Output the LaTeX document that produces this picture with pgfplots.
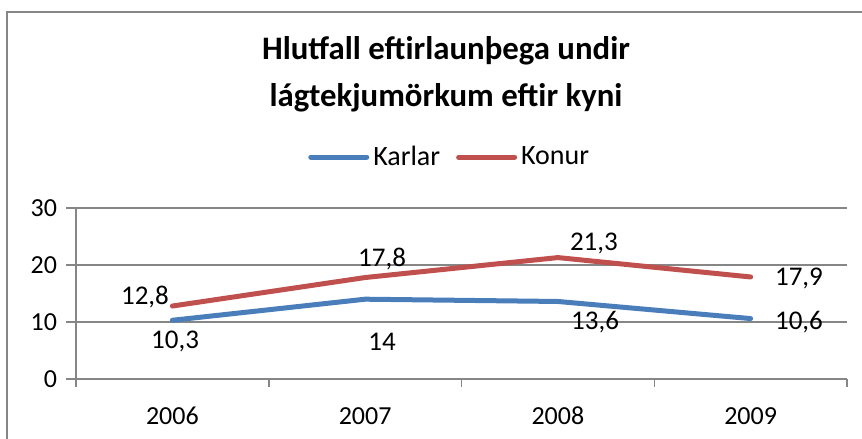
\documentclass[border=0pt]{standalone}
\usepackage{pgfplots}
\pgfplotsset{compat=1.18}
\usepackage{fontspec}
\setmainfont{Carlito}
\definecolor{cblue}{RGB}{74,126,187}
\definecolor{cred}{RGB}{192,80,77}
\definecolor{cgray}{RGB}{134,134,134}
\begin{document}
\begin{tikzpicture}
\useasboundingbox (0,0) rectangle (431pt,219.5pt);
\draw[cgray, line width=0.75pt] (3.5pt,-2pt) -- (3.5pt,213.5pt) -- (433pt,213.5pt);
\node[align=center, font=\fontsize{16.4}{23.5}\selectfont\bfseries] at (223pt,182.5pt)
  {Hlutfall eftirlaunþega undir\\lágtekjumörkum eftir kyni};
\begin{axis}[
  at={(38pt,30pt)}, anchor=south west,
  scale only axis, width=385.5pt, height=85.5pt,
  xmin=-0.5, xmax=3.5, ymin=0, ymax=30,
  xtick={0,1,2,3}, xticklabels={2006,2007,2008,2009},
  minor xtick={-0.5,0.5,1.5,2.5,3.5},
  ytick={0,10,20,30},
  axis x line*=bottom, axis y line*=left,
  axis line style={cgray, line width=0.75pt},
  x axis line style={-}, y axis line style={-},
  tick style={cgray, line width=0.75pt},
  major x tick style={draw=none},
  tick align=outside,
  major tick length=5pt, minor tick length=4pt,
  ymajorgrids, grid style={cgray, line width=0.75pt},
  tick label style={font=\fontsize{13}{14}\selectfont},
  /pgf/number format/assume math mode=true,
  xticklabel style={yshift=-5pt, text height=9pt, text depth=0pt, anchor=north},
  yticklabel style={xshift=-1pt},
  legend style={at={(0.486,1.298)}, anchor=center, draw=none, fill=none,
    font=\fontsize{14}{16}\selectfont, column sep=0pt,
    /tikz/every even column/.append style={column sep=6pt}},
  legend columns=2,
  legend image code/.code={\draw[#1, line width=2.5pt, line cap=round] (0pt,0pt) -- (28pt,0pt);},
  clip=false,
]
\addplot[cblue, line width=2.5pt, line cap=round, line join=round] coordinates {(0,10.3) (1,14) (2,13.6) (3,10.6)};
\addlegendentry{Karlar}
\addplot[cred, line width=2.5pt, line cap=round, line join=round] coordinates {(0,12.8) (1,17.8) (2,21.3) (3,17.9)};
\addlegendentry{Konur}
\begin{scope}[every node/.style={font=\fontsize{13.5}{14}\selectfont}]
\node at (axis cs:-0.142,14.4) {12,8};
\node at (axis cs:0.014,6.67) {10,3};
\node at (axis cs:1.088,21.05) {17,8};
\node at (axis cs:1.088,6.5) {14};
\node at (axis cs:2.187,23.86) {21,3};
\node at (axis cs:2.193,10.0) {13,6};
\node at (axis cs:3.251,17.7) {17,9};
\node at (axis cs:3.251,10.0) {10,6};
\end{scope}
\end{axis}
\end{tikzpicture}
\end{document}
